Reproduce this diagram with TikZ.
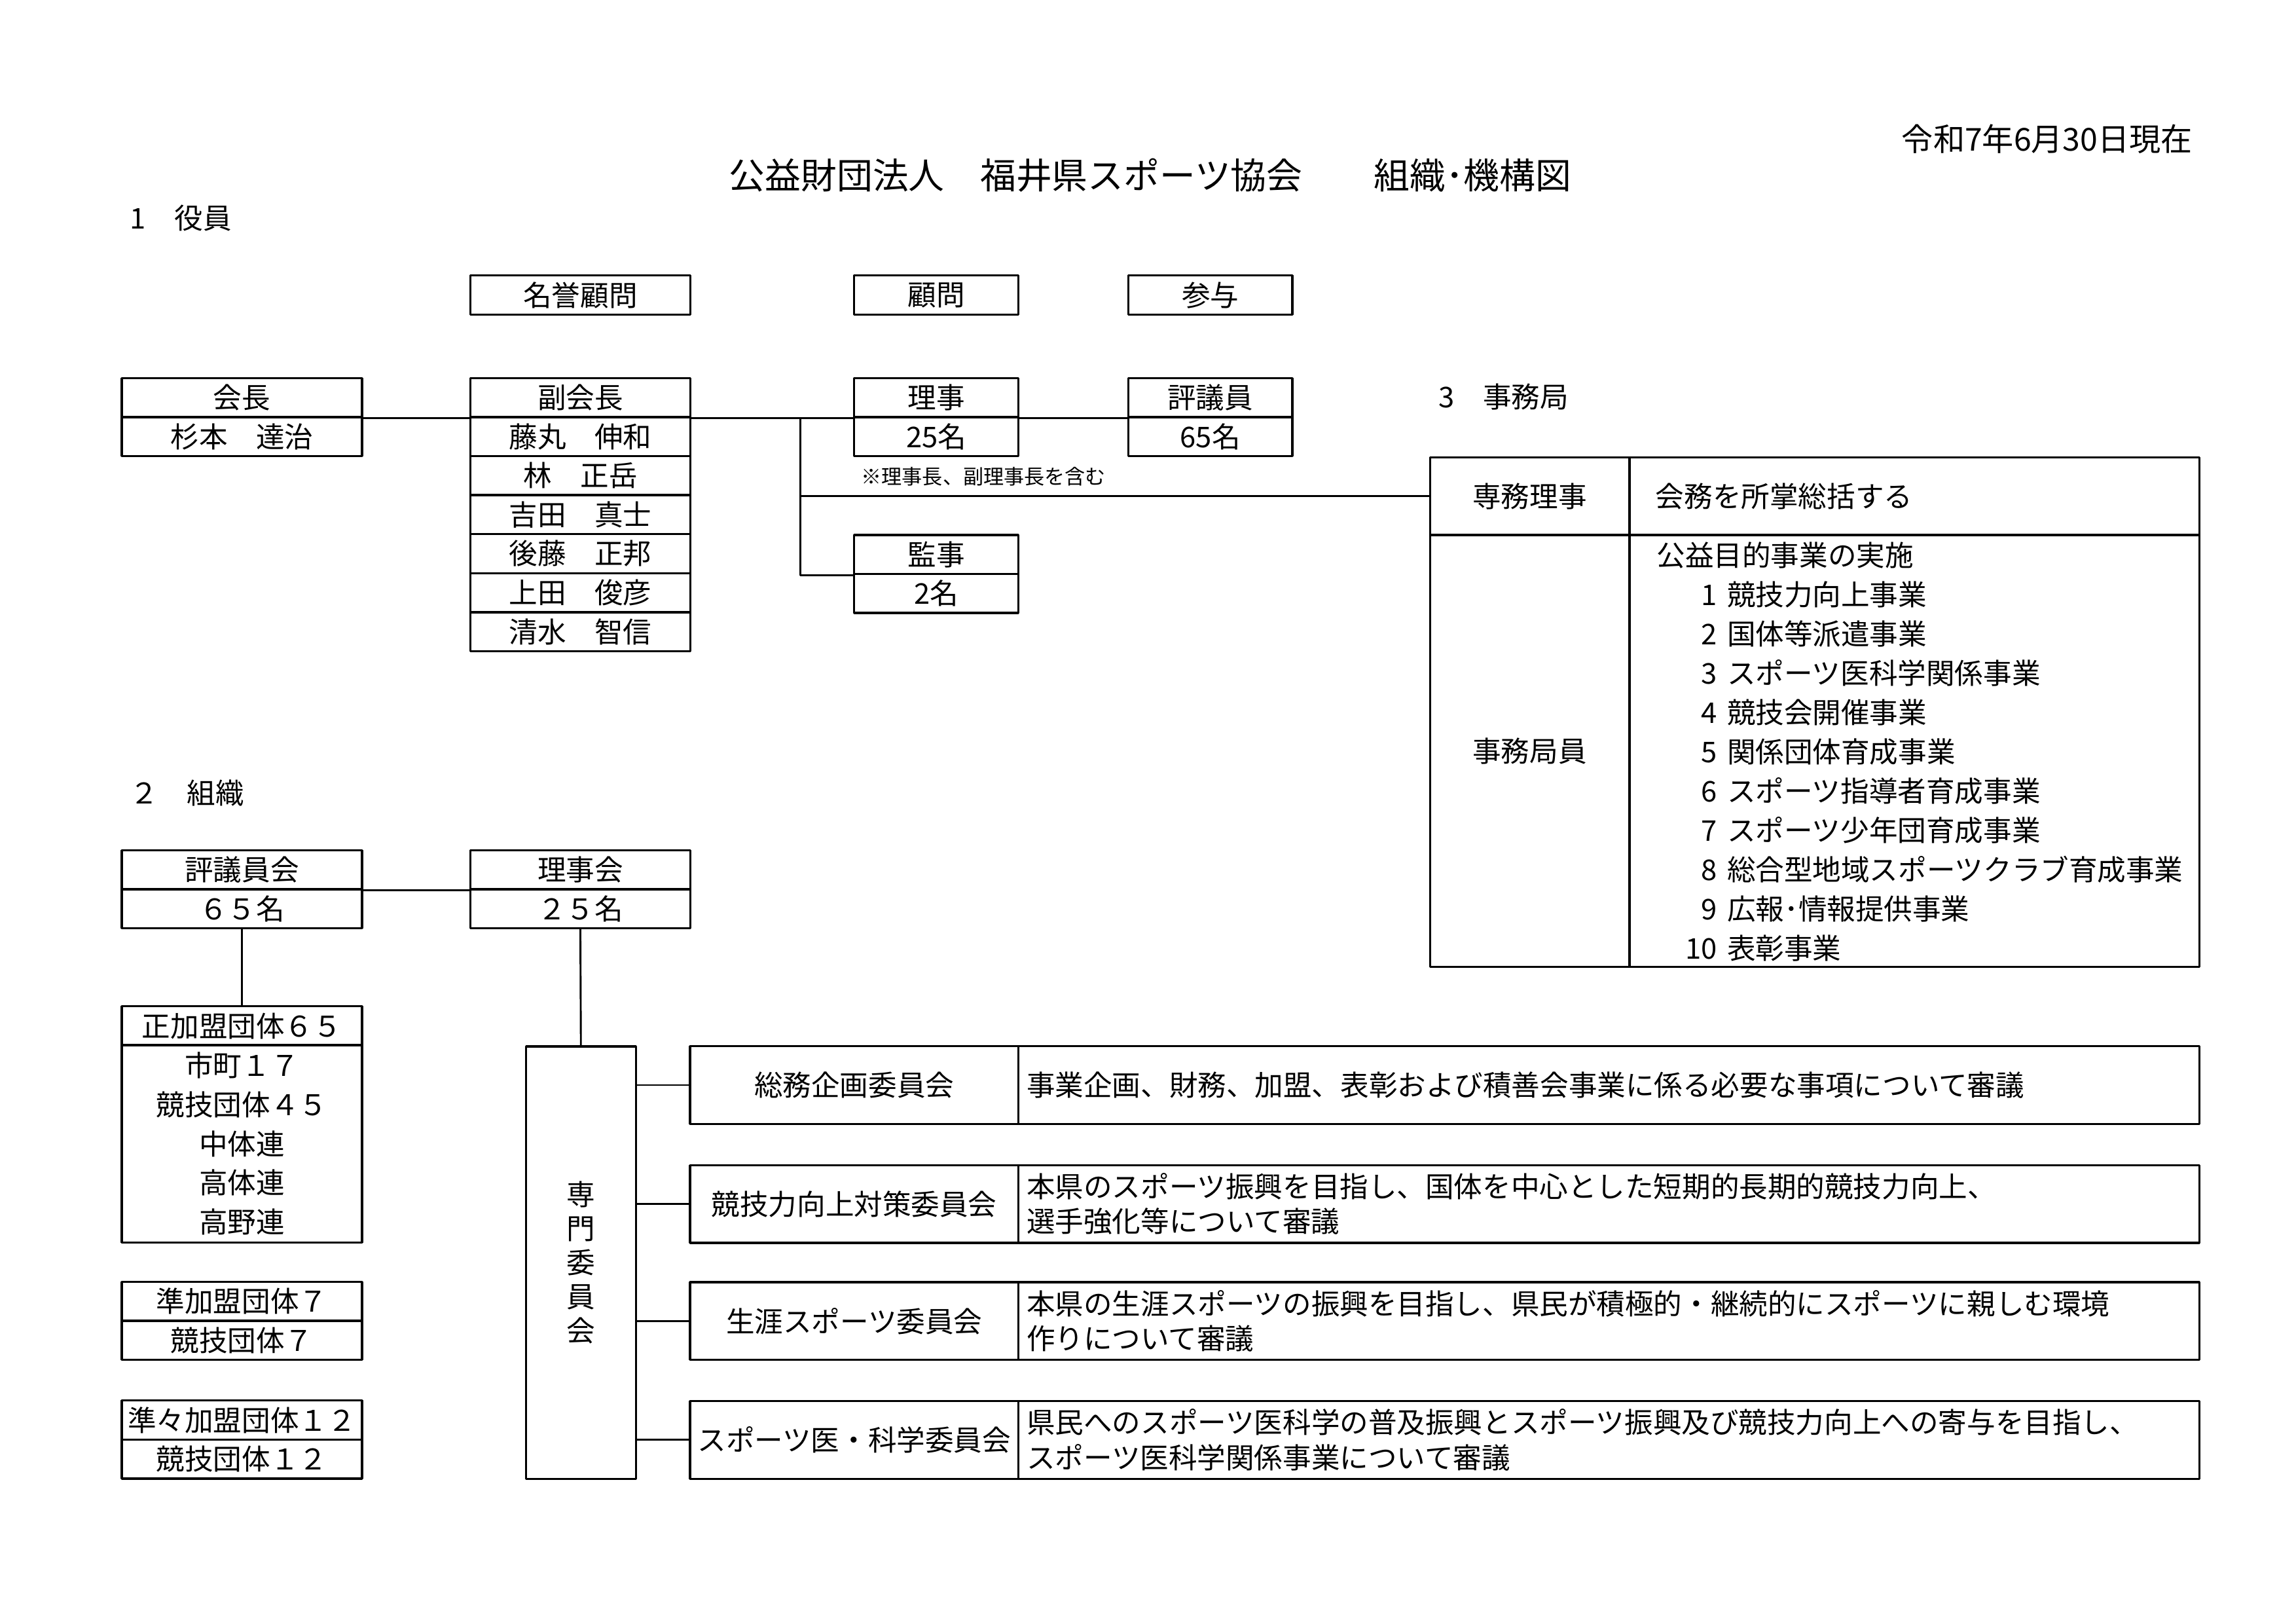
\documentclass[tikz,border=0pt]{standalone}
\usepackage{fontspec}
\setmainfont{Noto Sans CJK JP}

\begin{document}
\begin{tikzpicture}[>=latex,line join=bevel,
    cellbox/.style={draw,inner sep=0pt,minimum height=14.3bp},
    cellwide/.style={cellbox,minimum width=88.1bp},
    cellmid/.style={cellbox,minimum width=80.6bp},
    cellsmall/.style={cellbox,minimum width=60.2bp},
    heading/.style={anchor=west,inner sep=0pt,font=\fontsize{10.5}{12}\selectfont},
    cmtname/.style={draw,inner sep=0pt,minimum width=120.4bp,minimum height=28.5bp},
    cmtremit/.style={draw,inner xsep=3bp,inner ysep=0pt,text width=427.1bp,minimum height=28.5bp,align=left,font=\fontsize{10.5}{12.9}\selectfont},
    duty/.style={anchor=west,inner sep=0pt},
    link/.style={line width=0.7bp},
  ]
  \pgfsetlinewidth{0.8bp}
\fontsize{10.5}{12.6}\selectfont%
  \useasboundingbox (0bp,0bp) rectangle (841.89bp,595.28bp);
  \pgfsetcolor{black}
  % Title
  \node[font=\fontsize{13.2}{15.5}\selectfont] (title) at (421.8bp,530.9bp) {公益財団法人　福井県スポーツ協会　　組織･機構図};
  \node[anchor=east,inner sep=0pt,font=\fontsize{11.6}{13.5}\selectfont] (date) at (804.3bp,544.3bp) {令和7年6月30日現在};
  % Heading: 1
  \node[heading] (head1) at (47.3bp,515.3bp) {1　役員};
\begin{scope}
  % Node: meiyo
  \node[cellmid] (meiyo) at (212.8bp,487.1bp) {名誉顧問};
  % Node: komon
  \node[cellsmall] (komon) at (343.3bp,487.1bp) {顧問};
  % Node: sanyo
  \node[cellsmall] (sanyo) at (443.8bp,487.1bp) {参与};
  % Node: kaicho
  \node[cellwide] (kaicho) at (88.7bp,449.5bp) {会長};
  \node[cellwide] (kaichoN) at (88.7bp,435.2bp) {杉本　達治};
  % Node: fuku
  \node[cellmid] (fuku) at (212.8bp,449.5bp) {副会長};
  \node[cellmid] (fuku1) at (212.8bp,435.2bp) {藤丸　伸和};
  \node[cellmid] (fuku2) at (212.8bp,420.9bp) {林　正岳};
  \node[cellmid] (fuku3) at (212.8bp,406.6bp) {吉田　真士};
  \node[cellmid] (fuku4) at (212.8bp,392.3bp) {後藤　正邦};
  \node[cellmid] (fuku5) at (212.8bp,378.0bp) {上田　俊彦};
  \node[cellmid] (fuku6) at (212.8bp,363.7bp) {清水　智信};
  % Node: riji
  \node[cellsmall] (riji) at (343.3bp,449.5bp) {理事};
  \node[cellsmall] (rijiN) at (343.3bp,435.2bp) {25名};
  \node[anchor=west,inner sep=0pt,font=\fontsize{7.5}{9}\selectfont] (rijinote) at (315.4bp,420.7bp) {※理事長、副理事長を含む};
  % Node: hyogi
  \node[cellsmall] (hyogi) at (443.8bp,449.5bp) {評議員};
  \node[cellsmall] (hyogiN) at (443.8bp,435.2bp) {65名};
  % Node: kanji
  \node[cellsmall] (kanji) at (343.3bp,392.0bp) {監事};
  \node[cellsmall] (kanjiN) at (343.3bp,377.7bp) {2名};
\end{scope}
  % Heading: 3
  \node[heading] (head3) at (527.1bp,449.7bp) {3　事務局};
\begin{scope}
  % Node: senmu
  \node[draw,inner sep=0pt,minimum width=73.1bp,minimum height=28.5bp] (senmu) at (560.9bp,413.4bp) {専務理事};
  \node[draw,inner xsep=9.6bp,inner ysep=0pt,text width=189.8bp,minimum height=28.5bp,align=left] (senmuD) at (702.0bp,413.4bp) {会務を所掌総括する};
  % Node: jimuin
  \node[draw,inner sep=0pt,minimum width=73.1bp,minimum height=158.5bp] (jimuin) at (560.9bp,320.0bp) {事務局員};
  \node[draw,inner sep=0pt,minimum width=209.0bp,minimum height=158.5bp] (jimuinD) at (702.0bp,320.0bp) {};
  \node[duty] (duty0) at (607.1bp,391.7bp) {公益目的事業の実施};
  \node[duty] (duty1) at (619.2bp,377.3bp) {\makebox[10bp][r]{1}\hspace{3.7bp}競技力向上事業};
  \node[duty] (duty2) at (619.2bp,362.9bp) {\makebox[10bp][r]{2}\hspace{3.7bp}国体等派遣事業};
  \node[duty] (duty3) at (619.2bp,348.5bp) {\makebox[10bp][r]{3}\hspace{3.7bp}スポーツ医科学関係事業};
  \node[duty] (duty4) at (619.2bp,334.1bp) {\makebox[10bp][r]{4}\hspace{3.7bp}競技会開催事業};
  \node[duty] (duty5) at (619.2bp,319.7bp) {\makebox[10bp][r]{5}\hspace{3.7bp}関係団体育成事業};
  \node[duty] (duty6) at (619.2bp,305.3bp) {\makebox[10bp][r]{6}\hspace{3.7bp}スポーツ指導者育成事業};
  \node[duty] (duty7) at (619.2bp,290.9bp) {\makebox[10bp][r]{7}\hspace{3.7bp}スポーツ少年団育成事業};
  \node[duty] (duty8) at (619.2bp,276.5bp) {\makebox[10bp][r]{8}\hspace{3.7bp}総合型地域スポーツクラブ育成事業};
  \node[duty] (duty9) at (619.2bp,262.1bp) {\makebox[10bp][r]{9}\hspace{3.7bp}広報･情報提供事業};
  \node[duty] (duty10) at (619.2bp,247.7bp) {\makebox[10bp][r]{10}\hspace{3.7bp}表彰事業};
\end{scope}
  \coordinate (branch) at (293.4bp,442.2bp);
  % Edge: kaicho -> fuku
  \draw[link] (kaicho.south east) -- (fuku.south west);
  % Edge: fuku -> riji
  \draw[link] (fuku.south east) -- (riji.south west);
  % Edge: riji -> hyogi
  \draw[link] (riji.south east) -- (hyogi.south west);
  % Edge: branch -> kanji
  \draw[link] (branch |- fuku.south east) -- (branch |- kanji.south west) -- (kanji.south west);
  % Edge: branch -> senmu
  \draw[link] (branch |- senmu.west) -- (senmu.west);
  % Heading: 2
  \node[heading] (head2) at (47.3bp,304.6bp) {２　組織};
\begin{scope}
  % Node: hyogikai
  \node[cellwide] (hyogikai) at (88.7bp,276.4bp) {評議員会};
  \node[cellwide] (hyogikaiN) at (88.7bp,262.2bp) {６５名};
  % Node: rijikai
  \node[cellmid] (rijikai) at (212.8bp,276.4bp) {理事会};
  \node[cellmid] (rijikaiN) at (212.8bp,262.2bp) {２５名};
  % Node: seikamei
  \node[cellwide] (seikamei) at (88.7bp,219.2bp) {正加盟団体６５};
  \node[cellwide,minimum height=72.5bp,align=center,font=\fontsize{10.5}{14.4}\selectfont] (seikameiB) at (88.7bp,176.0bp) {市町１７\\競技団体４５\\中体連\\高体連\\高野連};
  % Node: junkamei
  \node[cellwide] (junkamei) at (88.7bp,118.2bp) {準加盟団体７};
  \node[cellwide] (junkameiN) at (88.7bp,104.0bp) {競技団体７};
  % Node: junjun
  \node[cellwide] (junjun) at (88.7bp,74.7bp) {準々加盟団体１２};
  \node[cellwide] (junjunN) at (88.7bp,60.4bp) {競技団体１２};
  % Node: senmon
  \node[draw,inner sep=0pt,minimum width=40.3bp,minimum height=158.5bp,align=center,font=\fontsize{10.5}{12.5}\selectfont] (senmon) at (213.0bp,132.4bp) {専\\門\\委\\員\\会};
  % Node: cmt1
  \node[cmtname] (cmt1) at (313.2bp,197.5bp) {総務企画委員会};
  \node[cmtremit] (cmt1D) at (590.0bp,197.5bp) {事業企画、財務、加盟、表彰および積善会事業に係る必要な事項について審議};
  % Node: cmt2
  \node[cmtname] (cmt2) at (313.2bp,153.9bp) {競技力向上対策委員会};
  \node[cmtremit] (cmt2D) at (590.0bp,153.9bp) {本県のスポーツ振興を目指し、国体を中心とした短期的長期的競技力向上、\\選手強化等について審議};
  % Node: cmt3
  \node[cmtname] (cmt3) at (313.2bp,111.0bp) {生涯スポーツ委員会};
  \node[cmtremit] (cmt3D) at (590.0bp,111.0bp) {本県の生涯スポーツの振興を目指し、県民が積極的・継続的にスポーツに親しむ環境\\作りについて審議};
  % Node: cmt4
  \node[cmtname] (cmt4) at (313.2bp,67.4bp) {スポーツ医・科学委員会};
  \node[cmtremit] (cmt4D) at (590.0bp,67.4bp) {県民へのスポーツ医科学の普及振興とスポーツ振興及び競技力向上への寄与を目指し、\\スポーツ医科学関係事業について審議};
\end{scope}
  % Edge: hyogikai -> rijikai
  \draw[link] (hyogikai.south east) -- (rijikai.south west);
  % Edge: hyogikai -> seikamei
  \draw[link] (hyogikaiN.south) -- (seikamei.north);
  % Edge: rijikai -> senmon
  \draw[link] (rijikaiN.south) -- (senmon.north);
  % Edge: senmon -> cmt1..cmt4
  \draw[link] (senmon.east |- cmt1.west) -- (cmt1.west);
  \draw[link] (senmon.east |- cmt2.west) -- (cmt2.west);
  \draw[link] (senmon.east |- cmt3.west) -- (cmt3.west);
  \draw[link] (senmon.east |- cmt4.west) -- (cmt4.west);
%
\end{tikzpicture}
\end{document}
